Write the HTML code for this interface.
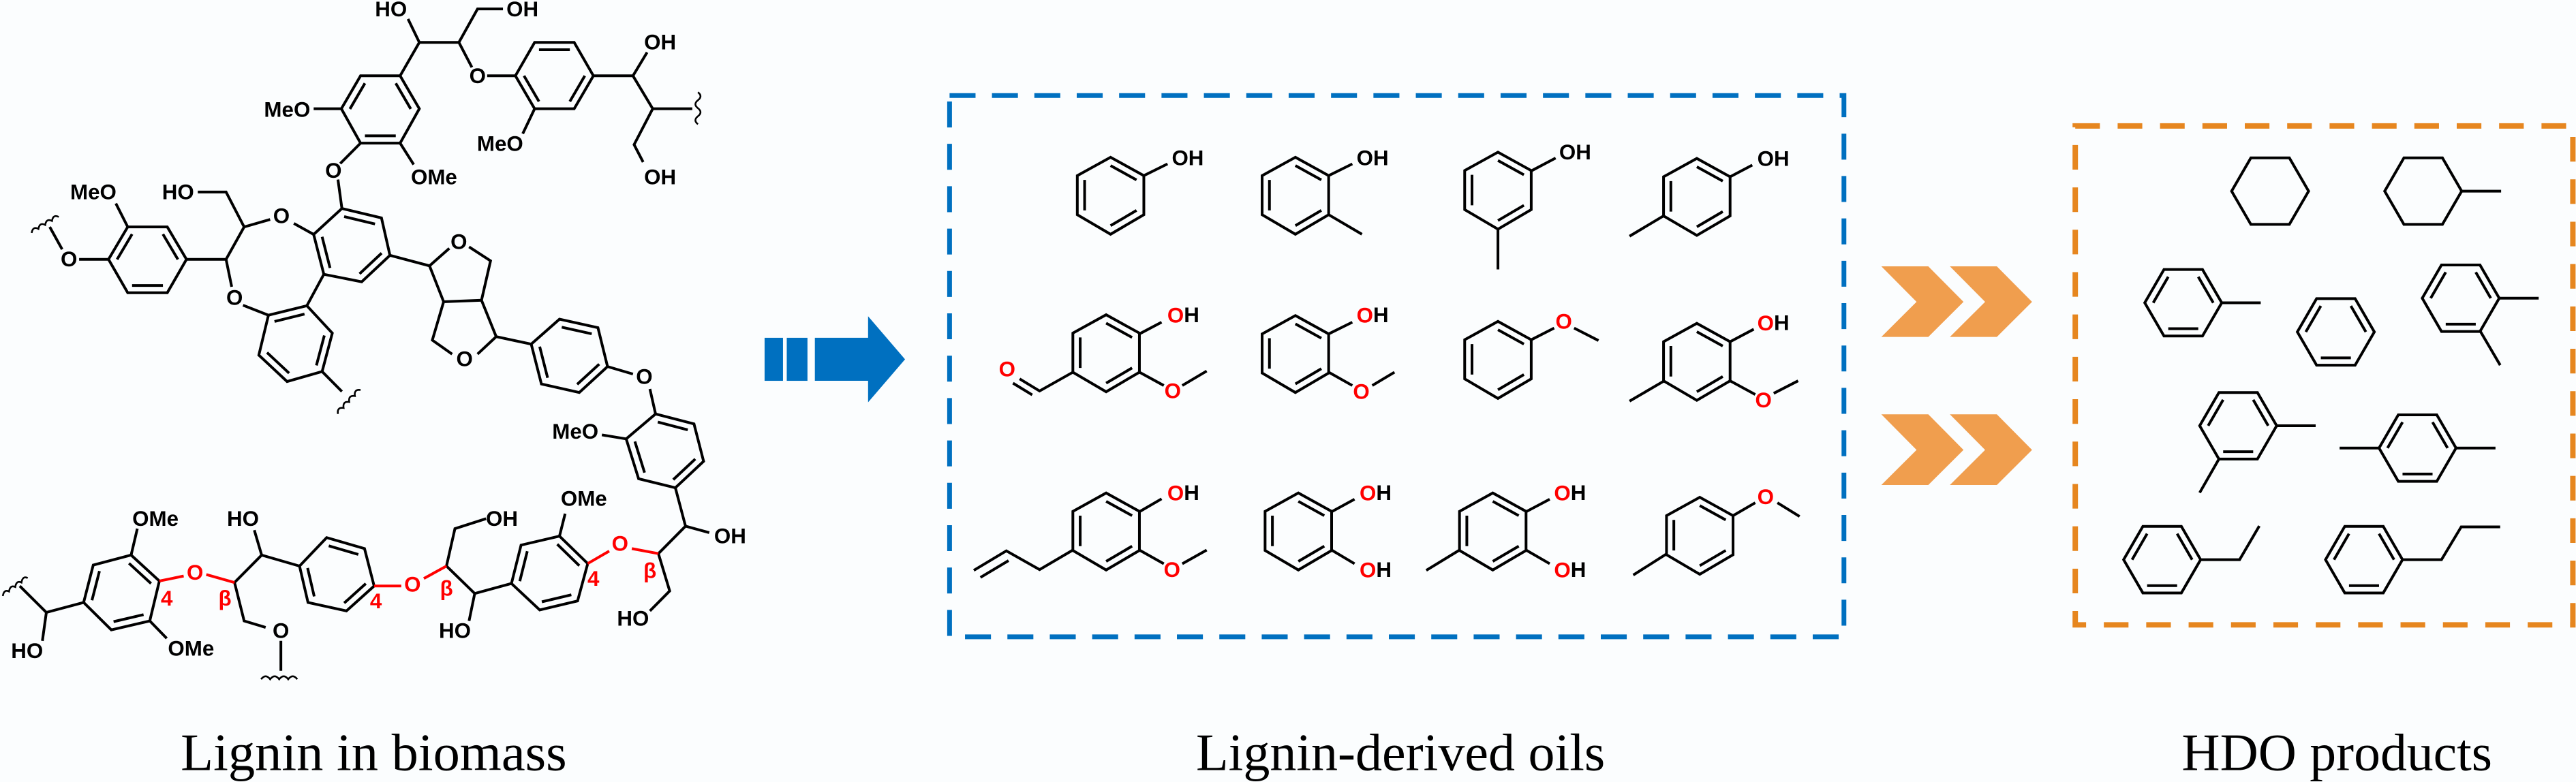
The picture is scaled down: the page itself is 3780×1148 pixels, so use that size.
<!DOCTYPE html>
<html><head><meta charset="utf-8"><style>
html,body{margin:0;padding:0;background:#fbfdfe;}
svg{display:block}
.b{fill:none;stroke:#000;stroke-width:4;vector-effect:non-scaling-stroke;stroke-linejoin:miter;stroke-linecap:butt}
.b *{vector-effect:non-scaling-stroke}
defs *{vector-effect:non-scaling-stroke}
.r{stroke:#f00}
.t{font-family:"Liberation Sans",Arial,sans-serif;font-weight:bold;font-size:13px;text-anchor:middle;dominant-baseline:central}
.red{fill:#f00}
.cap{font-family:"Liberation Serif","Times New Roman",serif;font-size:32px}
</style></head><body>
<svg width="3780" height="1148" viewBox="0 0 1568 476.2" preserveAspectRatio="none" xmlns="http://www.w3.org/2000/svg">
<rect width="1568" height="476.2" fill="#fbfdfe"/>
<defs>
 <g id="hv"><polygon vector-effect="non-scaling-stroke" points="-45,-50 0,-97 45,-50 45,50 0,100 -45,50"/><path vector-effect="non-scaling-stroke" transform="scale(.78)" d="M0,-97L45,-50M45,50L0,100M-45,50L-45,-50"/></g>
 <g id="hf"><polygon vector-effect="non-scaling-stroke" points="-82,0 -41,-73 41,-73 82,0 41,73 -41,73"/><path vector-effect="non-scaling-stroke" transform="scale(.78)" d="M-82,0L-41,-73M41,-73L82,0M41,73L-41,73"/></g>
 <g id="hc"><polygon vector-effect="non-scaling-stroke" points="-82,0 -41,-73 41,-73 82,0 41,73 -41,73"/></g>
</defs>

<!-- ============ Lignin (G1) ============ -->
<g class="b" transform="scale(0.344,0.3037)">
 <polygon points="638,152 708,152 742,218 708,287 638,287 604,218"/><path transform="translate(673,220) scale(.78) translate(-673,-220)" d="M708,152L742,218M708,287L638,287M604,218L638,152"/>
 <polygon points="912,152 946,85 1016,85 1050,152 1016,218 946,218"/><path transform="translate(981,152) scale(.78) translate(-981,-152)" d="M946,85L1016,85M1050,152L1016,218M946,218L912,152"/>
 <polygon points="192,520 226,455 296,455 330,520 296,587 226,587"/><path transform="translate(261,521) scale(.78) translate(-261,-521)" d="M192,520L226,455M296,455L330,520M296,587L226,587"/>
 <polygon points="555,470 605,418 675,437 690,512 640,565 573,550"/><path transform="translate(623,492) scale(.78) translate(-623,-492)" d="M605,418L675,437M690,512L640,565M573,550L555,470"/>
 <polygon points="475,632 543,613 588,668 570,745 508,765 458,712"/><path transform="translate(524,689) scale(.78) translate(-524,-689)" d="M475,632L543,613M588,668L570,745M508,765L458,712"/>
 <polygon points="940,690 990,640 1058,657 1075,735 1025,787 958,770"/><path transform="translate(1008,713) scale(.78) translate(-1008,-713)" d="M990,640L1058,657M1075,735L1025,787M958,770L940,690"/>
 <polygon points="1108,880 1160,830 1228,850 1245,925 1195,978 1130,960"/><path transform="translate(1178,904) scale(.78) translate(-1178,-904)" d="M1160,830L1228,850M1245,925L1195,978M1130,960L1108,880"/>
 <polygon points="148,1208 165,1133 232,1113 282,1165 265,1245 197,1263"/><path transform="translate(215,1188) scale(.78) translate(-215,-1188)" d="M148,1208L165,1133M232,1113L282,1165M265,1245L197,1263"/>
 <polygon points="530,1135 578,1078 645,1100 662,1175 613,1225 545,1208"/><path transform="translate(595,1153) scale(.78) translate(-595,-1153)" d="M578,1078L645,1100M662,1175L613,1225M545,1208L530,1135"/>
 <polygon points="905,1170 922,1093 990,1075 1040,1130 1022,1205 955,1223"/><path transform="translate(972,1149) scale(.78) translate(-972,-1149)" d="M905,1170L922,1093M990,1075L1040,1130M1022,1205L955,1223"/>
 <path d="M708,152L742,85L812,85L845,18L890,18M742,85L722,38M812,85L835,135M862,152L912,152
 M1050,152L1120,152L1155,218L1225,218M1120,152L1145,105M1155,218L1122,290L1138,325M946,218L925,268
 M604,218L555,218M708,287L732,330M638,287L602,328M598,360L605,418
 M555,470L520,448M478,440L432,455L400,385L350,385M432,455L400,520L330,520M400,520L410,575M430,612L475,632
 M573,550L543,613M570,745L605,785M226,455L205,408M192,520L140,520M110,500L88,455
 M690,512L760,533L795,498M830,495L868,523L852,602L785,605L760,533M785,605L765,682L800,710M845,710L878,675L852,602M878,675L940,690
 M1075,735L1120,750M1150,780L1160,830M1108,880L1065,872
 M1195,978L1213,1055L1255,1068M1213,1055L1165,1110M1165,1110L1185,1185L1150,1225
 M990,1075L1000,1030M905,1170L840,1190L790,1135L805,1060L860,1040M840,1190L830,1245
 M530,1135L463,1113L450,1063M463,1113L415,1168L432,1245L470,1258M497,1285L497,1345
 M232,1113L243,1060M265,1245L295,1280M148,1208L82,1228L35,1175M82,1228L75,1285"/>
 <path class="r" d="M1165,1110L1118,1100M1078,1105L1040,1130M790,1135L750,1160M710,1175L662,1175M415,1168L365,1152M325,1155L282,1165"/>
 <path style="stroke-width:2.6" d="M1235,185q9,8 0,16q-9,8 0,16q9,8 0,16q-9,8 0,16
 M56,467q2,-14 12,-8q2,-14 12,-8q2,-14 12,-8q2,-14 12,-8
 M598,830q-2,-14 10,-12q-2,-14 10,-12q-2,-14 10,-12q-2,-14 10,-12
 M5,1195q2,-14 11,-9q2,-14 11,-9q2,-14 11,-9q2,-14 11,-9
 M462,1362q8,-12 16,0q8,-12 16,0q8,-12 16,0q8,-12 16,0"/>
</g>
<g class="t">
 <text x="238" y="5.5">HO</text><text x="318" y="5.5">OH</text><text x="290.7" y="46.2">O</text>
 <text x="401.8" y="25.8">OH</text><text x="401.8" y="107.8">OH</text><text x="304.4" y="87.5">MeO</text>
 <text x="174.8" y="66.8">MeO</text><text x="264.2" y="107.8">OMe</text><text x="203" y="103.9">O</text>
 <text x="171.3" y="131.5">O</text><text x="108.4" y="116.9">HO</text><text x="142.8" y="181.3">O</text>
 <text x="56.8" y="116.9">MeO</text><text x="42" y="157.9">O</text><text x="279.3" y="147.3">O</text>
 <text x="282.8" y="218.7">O</text><text x="392.2" y="229.3">O</text><text x="350.2" y="262.7">MeO</text>
 <text x="355.4" y="303.7">OMe</text><text x="444.4" y="326.5">OH</text><text x="385.3" y="376.6">HO</text>
 <text x="305.5" y="315.8">OH</text><text x="276.9" y="384.2">HO</text><text x="147.9" y="315.8">HO</text>
 <text x="171" y="384.2">O</text><text x="94.6" y="315.8">OMe</text><text x="116.3" y="394.8">OMe</text>
 <text x="16.5" y="396.3">HO</text>
 <g class="red">
  <text x="377.4" y="331">O</text><text x="395.6" y="347.7">β</text><text x="361.2" y="352.3">4</text>
  <text x="251.1" y="355.9">O</text><text x="271.8" y="358.4">β</text><text x="228.8" y="366">4</text>
  <text x="118.7" y="348.6">O</text><text x="136.9" y="364.4">β</text><text x="101.5" y="364.4">4</text>
 </g>
</g>

<!-- blue arrow -->
<g fill="#0070c0">
 <rect x="465.4" y="205.7" width="11.2" height="26.2"/>
 <rect x="478.9" y="205.7" width="12.6" height="26.2"/>
 <polygon points="496,205.7 528.4,205.7 528.4,192.6 550.9,218.8 528.4,245 528.4,231.9 496,231.9"/>
</g>

<!-- blue box -->
<rect x="578" y="58.2" width="544.4" height="329.6" fill="none" stroke="#0070c0" stroke-width="2.9" stroke-dasharray="15.8 10"/>

<!-- ============ Oils (G2) ============ -->
<g class="b" transform="translate(456.4,41.5) scale(0.45,0.238)">
 <use href="#hv" x="488" y="325"/><use href="#hv" x="738" y="325"/><use href="#hv" x="1012" y="312"/><use href="#hv" x="1281" y="328"/>
 <use href="#hv" x="482" y="728"/><use href="#hv" x="738" y="730"/><use href="#hv" x="1012" y="745"/><use href="#hv" x="1281" y="750"/>
 <use href="#hv" x="482" y="1184"/><use href="#hv" x="742" y="1184"/><use href="#hv" x="1005" y="1184"/><use href="#hv" x="1285" y="1195"/>
 <path d="M533,275L565,245M783,275L815,245M783,375L828,425M1057,263L1090,230M1012,410L1012,515M1326,278L1356,248M1236,378L1190,430
 M527,680L557,650M527,778L560,812M585,812L618,775M437,778L392,826L365,795M382,836L356,806
 M783,680L815,650M783,778L815,812M842,812L872,778M1057,695L1088,665M1115,665L1148,697
 M1326,700L1358,668M1326,800L1360,835M1385,832L1418,800M1237,800L1190,852
 M527,1135L557,1102M527,1233L560,1268M585,1268L618,1233M437,1233L392,1283L347,1235L303,1285M350,1260L312,1303
 M787,1135L818,1103M787,1233L818,1268M1050,1135L1082,1103M1050,1233L1082,1268M960,1233L915,1285
 M1330,1145L1360,1112M1390,1112L1420,1147M1240,1243L1195,1297"/>
</g>
<g class="t">
 <text x="723" y="96.2">OH</text><text x="835.5" y="96.2">OH</text><text x="958.8" y="92.7">OH</text><text x="1079.4" y="96.7">OH</text>
 <text x="720.3" y="191.9"><tspan class="red">O</tspan>H</text><text x="713.8" y="238.1" class="red">O</text><text x="613" y="224.8" class="red">O</text>
 <text x="835.5" y="191.9"><tspan class="red">O</tspan>H</text><text x="828.6" y="238.6" class="red">O</text><text x="951.9" y="195.7" class="red">O</text>
 <text x="1079.4" y="196.7"><tspan class="red">O</tspan>H</text><text x="1073.4" y="243.8" class="red">O</text>
 <text x="720.3" y="300.2"><tspan class="red">O</tspan>H</text><text x="713.4" y="346.9" class="red">O</text>
 <text x="837.3" y="300.2"><tspan class="red">O</tspan>H</text><text x="837.3" y="346.9"><tspan class="red">O</tspan>H</text>
 <text x="955.7" y="300.2"><tspan class="red">O</tspan>H</text><text x="955.7" y="346.9"><tspan class="red">O</tspan>H</text>
 <text x="1074.7" y="302.6" class="red">O</text>
</g>

<!-- ============ HDO (G3) ============ -->
<g transform="translate(1120.3,41.5) scale(0.2858,0.2774)">
 <g fill="#f09e4e">
  <polygon points="87,435 187,435 262,513 187,590 87,590 162,513"/>
  <polygon points="233,435 333,435 408,513 333,590 233,590 308,513"/>
  <polygon points="87,760 187,760 262,838 187,915 87,915 162,838"/>
  <polygon points="233,760 333,760 408,838 333,915 233,915 308,838"/>
 </g>
 <g class="b">
  <use href="#hc" x="915" y="270"/><use href="#hc" x="1241" y="270"/>
  <use href="#hf" x="730" y="515"/><use href="#hf" x="1055" y="579"/><use href="#hf" x="1321" y="505"/>
  <use href="#hf" x="847" y="785"/><use href="#hf" x="1229" y="834"/>
  <use href="#hf" x="685" y="1079"/><use href="#hf" x="1115" y="1079"/>
  <path d="M1323,270L1407,270M812,515L895,515M1403,505L1487,505M1363,578L1405,652M929,785L1012,785M806,858L765,932
  M1063,834L1148,834M1310,834L1395,834M768,1079L850,1079L892,1005M1198,1079L1280,1079L1322,1007L1405,1007"/>
 </g>
</g>
<rect x="1263.2" y="76.7" width="302.9" height="303.8" fill="none" stroke="#e6861f" stroke-width="3.3" stroke-dasharray="15 10.8"/>

<!-- captions -->
<text class="cap" x="110" y="469" textLength="235" lengthAdjust="spacingAndGlyphs">Lignin in biomass</text>
<text class="cap" x="728" y="469" textLength="249" lengthAdjust="spacingAndGlyphs">Lignin-derived oils</text>
<text class="cap" x="1328" y="469" textLength="189" lengthAdjust="spacingAndGlyphs">HDO products</text>
</svg>
</body></html>
